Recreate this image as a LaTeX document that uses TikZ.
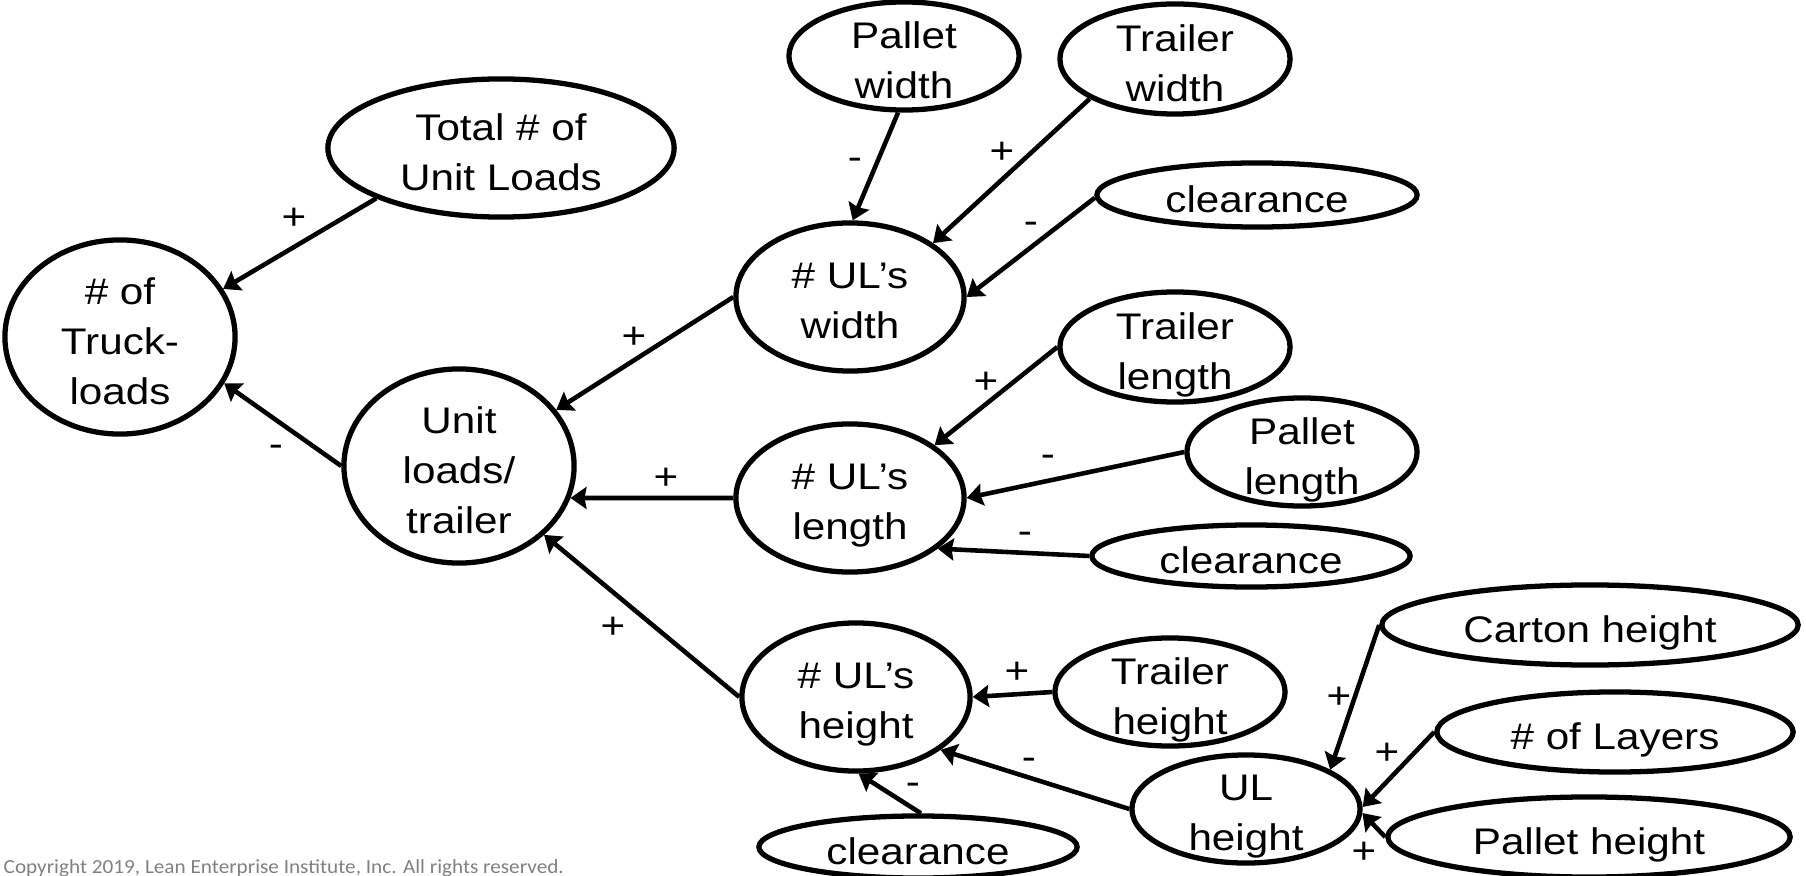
\documentclass[tikz,border=0pt]{standalone}
\usepackage{fontspec}
\setmainfont{Liberation Sans}[FakeStretch=1.14]
\newfontfamily\noticefont{Carlito}[FakeStretch=1.06]
\usetikzlibrary{arrows.meta,shapes.geometric}
\begin{document}
\begin{tikzpicture}[x=0.01cm,y=-0.01cm,
  bubble/.style={draw, ellipse, line width=1.5pt, inner sep=0pt},
  lbl/.style={align=center, inner sep=0pt, text depth=0pt,
    font=\fontsize{10.53}{14.23}\selectfont},
  sign/.style={inner sep=0pt, font=\fontsize{10.53}{14.23}\selectfont},
  conn/.style={line width=1.3pt,
    -{Stealth[length=0.16cm,width=0.22cm,inset=0.02cm]}}]
\useasboundingbox (0,0) rectangle (1806,876);

% ellipse with its caption: name, x, y, half width, half height, text
\newcommand\ovalnode[6]{%
  \node[bubble, minimum width=#4*0.02cm, minimum height=#5*0.02cm] (#1) at (#2,#3) {};
  \node[lbl] (#1-t) at (#2,#3+4) {#6};}

\ovalnode{truck}{120}{337}{115}{97}{\# of\\Truck-\\loads}
\ovalnode{total}{501}{148}{173}{69}{Total \# of\\Unit Loads}
\ovalnode{unit}{459}{466}{115}{97}{Unit\\loads/\\trailer}
\ovalnode{ulw}{850}{297}{114}{74}{\# UL’s\\width}
\ovalnode{pw}{904}{56}{115}{54}{Pallet\\width}
\ovalnode{tw}{1175}{59}{115}{55}{Trailer\\width}
\ovalnode{clt}{1257}{195}{160}{32}{clearance}
\ovalnode{tl}{1175}{347}{115}{55}{Trailer\\length}
\ovalnode{pl}{1302}{452}{115}{54}{Pallet\\length}
\ovalnode{ull}{850}{498}{114}{74}{\# UL’s\\length}
\ovalnode{clm}{1251}{556}{159}{31}{clearance}
\ovalnode{ch}{1590}{625}{208}{40}{Carton height}
\ovalnode{th}{1170}{692}{115}{54}{Trailer\\height}
\ovalnode{ulh}{856}{697}{114}{74}{\# UL’s\\height}
\ovalnode{ulht}{1246}{809}{114}{54}{UL\\height}
\ovalnode{lay}{1615}{732}{178}{40}{\# of Layers}
\ovalnode{ph}{1589}{837}{201}{40}{Pallet height}
\ovalnode{clb}{918}{847}{159}{31}{clearance}

% influence arrows
\draw[conn] (total.202) -- (truck.25);
\draw[conn] (unit.180) -- (truck.336);
\draw[conn] (ulw.180) -- (unit.30);
\draw[conn] (ull.180) -- (unit.344);
\draw[conn] (ulh.180) -- (unit.321);
\draw[conn] (pw.264) -- (ulw.88);
\draw[conn] (tw.205) -- (ulw.33);
\draw[conn] (clt.181) -- (ulw.0);
\draw[conn] (tl.180) -- (ull.32);
\draw[conn] (pl.180) -- (ull.0);
\draw[conn] (clm.180) -- (ull.330);
\draw[conn] (th.180) -- (ulh.0);
\draw[conn] (ulht.180) -- (ulh.328);
\draw[conn] (clb.85) -- (ulh.272);
\draw[conn] (ch.180) -- (ulht.25);
\draw[conn] (lay.180) -- (ulht.1);
\draw[conn] (ph.180) -- (ulht.358);

% polarity signs
\node[sign] (s1) at (294,219) {+};
\node[sign] (s2) at (276,451) {-};
\node[sign] (s3) at (634,338) {+};
\node[sign] (s4) at (666,479) {+};
\node[sign] (s5) at (613,628) {+};
\node[sign] (s6) at (855,164) {-};
\node[sign] (s7) at (1002,153) {+};
\node[sign] (s8) at (1031,228) {-};
\node[sign] (s9) at (986,383) {+};
\node[sign] (s10) at (1048,461) {-};
\node[sign] (s11) at (1025,538) {-};
\node[sign] (s12) at (1017,673) {+};
\node[sign] (s13) at (1029,764) {-};
\node[sign] (s14) at (913,789) {-};
\node[sign] (s15) at (1339,698) {+};
\node[sign] (s16) at (1387,754) {+};
\node[sign] (s17) at (1364,853) {+};

\node[anchor=base west, inner sep=0pt, text=black!50,
  font=\noticefont\fontsize{5.69}{6.8}\selectfont] (notice) at (3,873)
  {Copyright 2019, Lean Enterprise Institute, Inc. All rights reserved.};
\end{tikzpicture}
\end{document}
